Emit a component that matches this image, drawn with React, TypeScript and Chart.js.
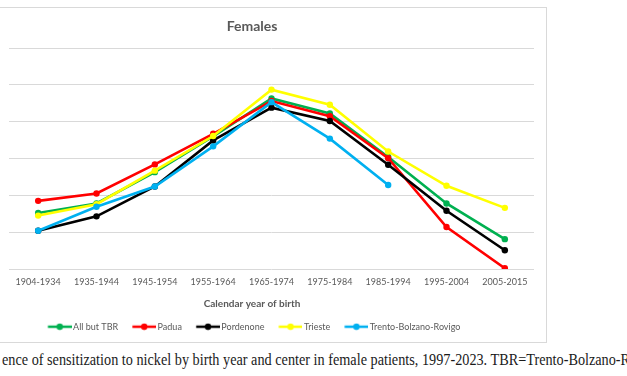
import React, { useEffect, useRef } from "react";
import { Chart, registerables } from "chart.js";

Chart.register(...registerables);

const categories = [
  "1904-1934",
  "1935-1944",
  "1945-1954",
  "1955-1964",
  "1965-1974",
  "1975-1984",
  "1985-1994",
  "1995-2004",
  "2005-2015",
];
const allButTBR = [15.2, 17.8, 26.3, 36.0, 46.3, 42.2, 30.4, 17.8, 8.1];
const padua = [18.5, 20.5, 28.4, 36.7, 45.6, 41.5, 30.1, 11.4, 0.2];
const pordenone = [10.4, 14.3, 22.4, 34.9, 43.8, 40.2, 28.3, 15.8, 5.1];
const trieste = [14.5, 17.6, 26.7, 36.1, 48.7, 44.6, 31.9, 22.6, 16.6];
const trentoBolzanoRovigo = [10.4, 16.9, 22.4, 33.3, 45.3, 35.4, 22.8, null, null];

const seriesNames = ["All but TBR", "Padua", "Pordenone", "Trieste", "Trento-Bolzano-Rovigo"];
const seriesValues = [allButTBR, padua, pordenone, trieste, trentoBolzanoRovigo];
const seriesColors = ["#00b050", "#ff0000", "#000000", "#ffff00", "#00b0f0"];

const yMin = 0;
const yMax = 60;
const yStep = 10;

const chartTitle = "Females";
const xAxisTitle = "Calendar year of birth";
const caption =
  "ence of sensitization to nickel by birth year and center in female patients, 1997-2023. TBR=Trento-Bolzano-Rovigo.";

const TEXT = "#595959";
const GRID = "#d9d9d9";
const FONT = "Lato, 'Open Sans', sans-serif";

function makeIcon(color: string): HTMLCanvasElement {
  const c = document.createElement("canvas");
  c.width = 31;
  c.height = 8;
  const ctx = c.getContext("2d")!;
  ctx.strokeStyle = color;
  ctx.lineWidth = 2.5;
  ctx.beginPath();
  ctx.moveTo(7.3, 4);
  ctx.lineTo(31, 4);
  ctx.stroke();
  ctx.fillStyle = color;
  ctx.beginPath();
  ctx.arc(19.15, 4, 3.2, 0, Math.PI * 2);
  ctx.fill();
  return c;
}

export default function App() {
  const ref = useRef<HTMLCanvasElement | null>(null);

  useEffect(() => {
    if (!ref.current) return;
    const icons = seriesColors.map(makeIcon);
    const chart = new Chart(ref.current, {
      type: "line",
      data: {
        labels: categories,
        datasets: seriesNames.map((name, i) => ({
          label: name,
          data: seriesValues[i],
          borderColor: seriesColors[i],
          backgroundColor: seriesColors[i],
          borderWidth: 2.6,
          pointRadius: 3.2,
          pointBorderWidth: 0,
          pointBackgroundColor: seriesColors[i],
          tension: 0,
          fill: false,
          order: seriesNames.length - i,
        })),
      },
      options: {
        responsive: false,
        animation: false,
        devicePixelRatio: 1,
        layout: { padding: { left: 13, right: 13, top: 0, bottom: 1.8 } },
        scales: {
          x: {
            offset: true,
            grid: { display: false, drawTicks: false },
            border: { display: false },
            ticks: {
              color: TEXT,
              font: { family: FONT, size: 9 },
              padding: 8,
              maxRotation: 0,
              autoSkip: false,
            },
          },
          y: {
            min: yMin,
            max: yMax,
            ticks: { display: false, stepSize: yStep },
            grid: { color: GRID, lineWidth: 1, drawTicks: false },
            border: { display: false },
            afterFit: (scale: any) => {
              scale.width = 39;
            },
          },
        },
        plugins: {
          tooltip: { enabled: false },
          title: {
            display: true,
            text: chartTitle,
            color: TEXT,
            font: { family: FONT, size: 14, weight: "bold" },
            padding: { top: 10.6, bottom: 13.6 },
          },
          subtitle: {
            display: true,
            text: xAxisTitle,
            position: "bottom",
            weight: 500,
            color: TEXT,
            font: { family: FONT, size: 10, weight: "bold" },
            padding: { top: 1.5, bottom: 2.9 },
          } as any,
          legend: {
            position: "bottom",
            labels: {
              usePointStyle: true,
              pointStyleWidth: 25,
              boxHeight: 9,
              padding: 10,
              color: TEXT,
              font: { family: FONT, size: 9 },
              generateLabels: (c: any) =>
                c.data.datasets.map((ds: any, i: number) => ({
                  text: ds.label,
                  fillStyle: ds.borderColor,
                  strokeStyle: ds.borderColor,
                  lineWidth: 0,
                  pointStyle: icons[i],
                  hidden: false,
                  datasetIndex: i,
                  fontColor: TEXT,
                })),
            },
          },
        },
      },
    });
    return () => chart.destroy();
  }, []);

  return (
    <div
      style={{
        position: "absolute",
        left: 0,
        top: 0,
        width: 627,
        height: 376,
        overflow: "hidden",
        background: "#fff",
      }}
    >
      <div
        style={{
          position: "absolute",
          left: -43,
          top: 7,
          width: 590,
          height: 336,
          border: `1px solid ${GRID}`,
          boxSizing: "border-box",
        }}
      />
      <canvas
        ref={ref}
        width={590}
        height={336}
        style={{ position: "absolute", left: -43, top: 7, width: 590, height: 336 }}
      />
      <div
        style={{
          position: "absolute",
          left: 2,
          top: 351,
          whiteSpace: "nowrap",
          fontFamily: "'Liberation Serif', serif",
          fontSize: 16,
          lineHeight: "18px",
          color: "#1a1a1a",
          transform: "scaleX(0.89)",
          transformOrigin: "left top",
        }}
      >
        {caption}
      </div>
    </div>
  );
}
